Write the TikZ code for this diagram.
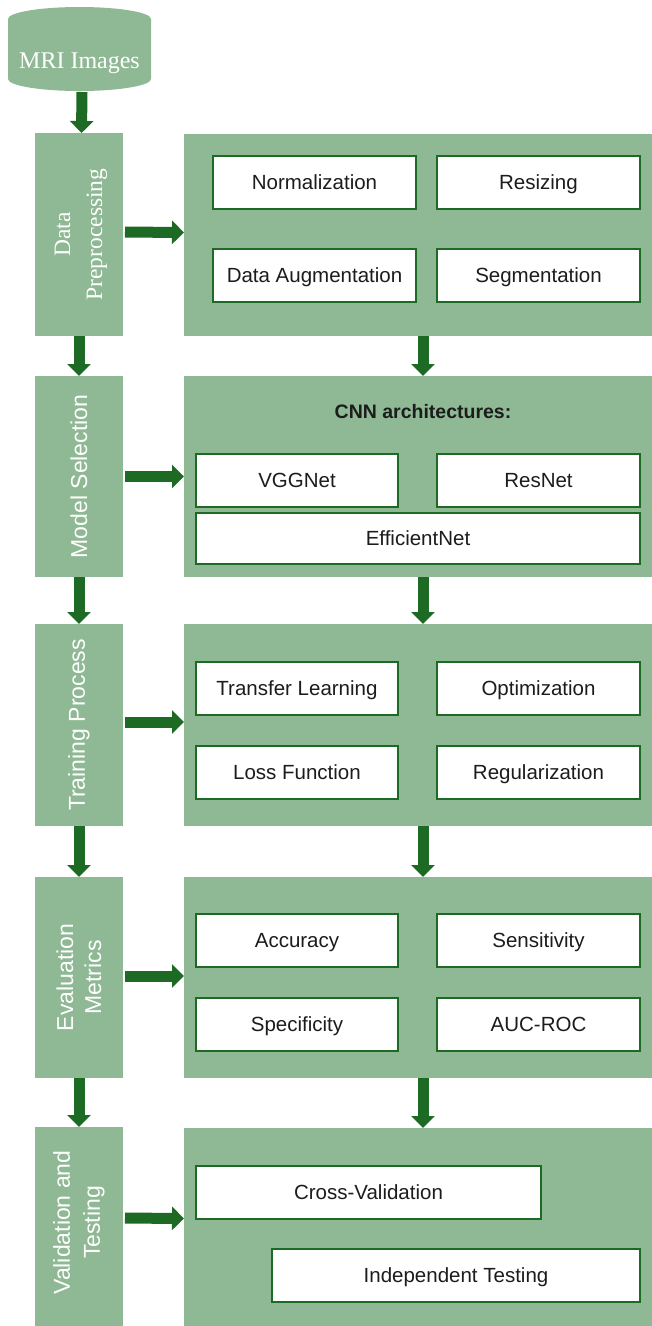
\documentclass[tikz,border=0pt]{standalone}
\usepackage{fontspec}
\setmainfont{Liberation Serif}
\setsansfont{Liberation Sans}
\usetikzlibrary{arrows.meta}
\definecolor{panelg}{RGB}{143,185,148}
\definecolor{darkg}{RGB}{28,106,36}
\definecolor{txtc}{RGB}{28,28,28}
\begin{document}
\begin{tikzpicture}[x=1pt,y=-1pt,
  stagebox/.style={fill=panelg, draw=none, inner sep=0pt, outer sep=0pt, minimum width=88pt},
  stagelabel/.style={rotate=90, align=center, text=white, inner sep=0pt},
  sanslabel/.style={stagelabel, font=\sffamily\fontsize{23}{28}\selectfont},
  panel/.style={fill=panelg, draw=none, inner sep=0pt, outer sep=0pt, minimum width=468pt},
  itembox/.style={draw=darkg, line width=2pt, fill=white, inner sep=0pt, outer sep=0pt,
    minimum height=53pt, text=txtc, text height=14.5pt, text depth=0pt,
    font=\sffamily\fontsize{20.5}{24}\selectfont},
  bigarrow/.style={draw=darkg, line width=11pt, -{Triangle[length=12pt,width=23pt]}}
]
\useasboundingbox (0,0) rectangle (652,1326);

% cylinder
\fill[panelg] (8,19) arc[start angle=180, end angle=360, x radius=71.5, y radius=12]
  -- (151,79) arc[start angle=0, end angle=180, x radius=71.5, y radius=12] -- cycle;
\node[inner sep=0pt, outer sep=0pt, minimum width=143pt, minimum height=64pt, text=white,
  text height=16pt, text depth=0pt,
  font=\fontsize{24}{28}\selectfont] (mri) at (79.5,60) {MRI Images};

% left stage boxes
\node[stagebox, minimum height=203pt] (dp) at (79,234.5) {};
\node[stagebox, minimum height=201pt] (ms) at (79,476.5) {};
\node[stagebox, minimum height=202pt] (tp) at (79,725) {};
\node[stagebox, minimum height=201pt] (em) at (79,977.5) {};
\node[stagebox, minimum height=199pt] (vt) at (79,1226.5) {};

\node[stagelabel, font=\fontsize{23.5}{32}\selectfont] (dpl) at ([xshift=2pt]dp) {Data\\Preprocessing};
\node[sanslabel] (msl) at (ms) {Model Selection};
\node[sanslabel] (tpl) at (tp) {Training Process};
\node[sanslabel] (eml) at (em) {Evaluation\\Metrics};
\node[sanslabel, font=\sffamily\fontsize{23}{30}\selectfont] (vtl) at ([yshift=4pt]vt) {Validation and\\Testing};

% right panels
\node[panel, minimum height=202pt] (p1) at (418,235) {};
\node[panel, minimum height=201pt] (p2) at (418,476.5) {};
\node[panel, minimum height=202pt] (p3) at (418,725) {};
\node[panel, minimum height=201pt] (p4) at (418,977.5) {};
\node[panel, minimum height=198pt] (p5) at (418,1227) {};

% panel 1
\node[itembox, minimum width=203pt] (norm) at (314.5,182.5) {Normalization};
\node[itembox, minimum width=203pt] (resz) at (538.5,182.5) {Resizing};
\node[itembox, minimum width=203pt] (aug) at (314.5,275) {Data Augmentation};
\node[itembox, minimum width=203pt] (seg) at (538.5,275) {Segmentation};

% panel 2
\node[text=txtc, font=\sffamily\bfseries\fontsize{19.5}{23}\selectfont, inner sep=0pt,
  text height=14pt, text depth=0pt] (cnn) at (423,411) {CNN architectures:};
\node[itembox, minimum width=202pt] (vgg) at (297,480) {VGGNet};
\node[itembox, minimum width=203pt] (res) at (538.5,480) {ResNet};
\node[itembox, minimum width=444pt, minimum height=51pt] (eff) at (418,538) {EfficientNet};

% panel 3
\node[itembox, minimum width=202pt] (tl) at (297,688.5) {Transfer Learning};
\node[itembox, minimum width=203pt] (opt) at (538.5,688.5) {Optimization};
\node[itembox, minimum width=202pt] (lf) at (297,772.5) {Loss Function};
\node[itembox, minimum width=203pt] (reg) at (538.5,772.5) {Regularization};

% panel 4
\node[itembox, minimum width=202pt] (acc) at (297,940) {Accuracy};
\node[itembox, minimum width=203pt] (sens) at (538.5,940) {Sensitivity};
\node[itembox, minimum width=202pt] (spec) at (297,1024.5) {Specificity};
\node[itembox, minimum width=203pt] (auc) at (538.5,1024.5) {AUC-ROC};

% panel 5
\node[itembox, minimum width=345pt] (cv) at (368.5,1192) {Cross-Validation};
\node[itembox, minimum width=368pt] (it) at (456,1275.5) {Independent Testing};

% vertical arrows (left)
\draw[bigarrow] ([xshift=2.5pt]mri.south) -- ([xshift=2.5pt]dp.north);
\draw[bigarrow] (dp.south) -- (ms.north);
\draw[bigarrow] (ms.south) -- (tp.north);
\draw[bigarrow] (tp.south) -- (em.north);
\draw[bigarrow] (em.south) -- (vt.north);

% vertical arrows (right)
\draw[bigarrow] ([xshift=5pt]p1.south) -- ([xshift=5pt]p2.north);
\draw[bigarrow] ([xshift=5pt]p2.south) -- ([xshift=5pt]p3.north);
\draw[bigarrow] ([xshift=5pt]p3.south) -- ([xshift=5pt]p4.north);
\draw[bigarrow] ([xshift=5pt]p4.south) -- ([xshift=5pt]p5.north);

% horizontal arrows
\draw[bigarrow, shorten <=2pt] ([yshift=2.5pt]dp.east) -- ([yshift=2.5pt]p1.west);
\draw[bigarrow, shorten <=2pt] (ms.east) -- (p2.west);
\draw[bigarrow, shorten <=2pt] ([yshift=3pt]tp.east) -- ([yshift=3pt]p3.west);
\draw[bigarrow, shorten <=2pt] ([yshift=1.5pt]em.east) -- ([yshift=1.5pt]p4.west);
\draw[bigarrow, shorten <=2pt] ([yshift=8.5pt]vt.east) -- ([yshift=8.5pt]p5.west);
\end{tikzpicture}
\end{document}
